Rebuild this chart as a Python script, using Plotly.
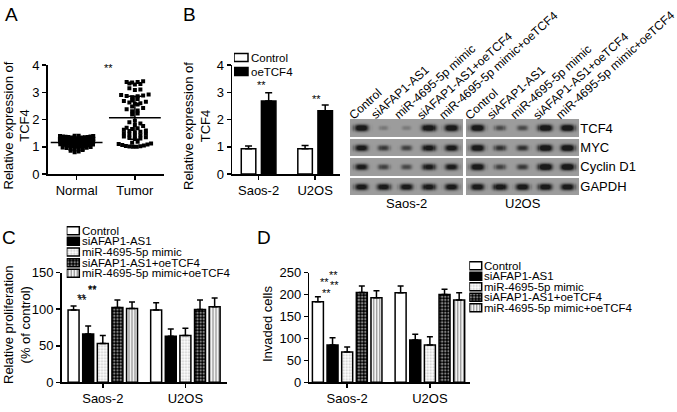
import math
import numpy as np
import plotly.graph_objects as go

W, H = 677, 412
FONT = "Liberation Sans, Arial, sans-serif"

# ---------------- data ----------------
# Panel A: relative TCF4 expression (dot plot)
a_groups = ["Normal", "Tumor"]
normal_tcf4 = [1.40, 1.40, 1.39, 1.39, 1.38, 1.38, 1.37, 1.36, 1.36, 1.35, 1.34, 1.34, 1.33, 1.32, 1.31,
               1.29, 1.28, 1.28, 1.27, 1.26, 1.25, 1.25, 1.24, 1.23, 1.22, 1.22, 1.21, 1.20, 1.20,
               1.19, 1.18, 1.17, 1.16, 1.15, 1.15, 1.14, 1.13, 1.12, 1.12, 1.11, 1.10, 1.10,
               1.09, 1.08, 1.07, 1.06, 1.05, 1.04, 1.04, 1.03, 1.02, 1.01, 1.00,
               0.99, 0.97, 0.96, 0.95, 0.93, 0.92, 0.91, 0.90,
               0.88, 0.85, 0.83, 0.80]
tumor_tcf4 = [3.40, 3.38, 3.38, 3.36, 3.32, 3.30, 3.28,
              3.15, 3.10, 3.08,
              2.92, 2.90, 2.88, 2.86, 2.85, 2.82,
              2.75, 2.70, 2.68, 2.65, 2.62, 2.60, 2.58, 2.55,
              2.48, 2.42, 2.38, 2.33, 2.30,
              2.22, 2.18,
              1.95, 1.90, 1.85, 1.80, 1.76,
              1.70, 1.68, 1.65, 1.62, 1.60, 1.58, 1.55, 1.53, 1.50, 1.48,
              1.45, 1.42, 1.40, 1.38, 1.35, 1.33, 1.30, 1.28,
              1.18, 1.15, 1.12, 1.10, 1.08, 1.06, 1.05, 1.03, 1.02, 1.01, 1.00, 1.00]

# Panel B
b_cells = ["Saos-2", "U2OS"]
b_series = ["Control", "oeTCF4"]
b_control = [0.93, 0.93]
b_control_sd = [0.10, 0.12]
b_oetcf4 = [2.68, 2.32]
b_oetcf4_sd = [0.30, 0.21]

# Western blot
lanes = ["Control", "siAFAP1-AS1", "miR-4695-5p mimic", "siAFAP1-AS1+oeTCF4", "miR-4695-5p mimic+oeTCF4"]
blot_cells = ["Saos-2", "U2OS"]
blot_proteins = ["TCF4", "MYC", "Cyclin D1", "GAPDH"]
tcf4_saos = [1.00, 0.22, 0.20, 1.00, 1.00]
tcf4_u2os = [1.05, 0.50, 0.50, 1.05, 1.05]
myc_saos = [0.90, 0.60, 0.55, 0.90, 0.90]
myc_u2os = [1.00, 0.65, 0.65, 1.05, 1.05]
ccnd1_saos = [0.85, 0.55, 0.50, 0.85, 0.85]
ccnd1_u2os = [1.00, 0.55, 0.60, 1.10, 1.10]
gapdh_saos = [0.90, 0.90, 0.90, 0.90, 0.90]
gapdh_u2os = [0.95, 0.95, 0.95, 0.95, 0.95]

# Panels C & D
cd_cells = ["Saos-2", "U2OS"]
treatments = ["Control", "siAFAP1-AS1", "miR-4695-5p mimic", "siAFAP1-AS1+oeTCF4", "miR-4695-5p mimic+oeTCF4"]
prolif_control = [99, 99]
prolif_control_sd = [5.5, 10]
prolif_si = [66, 63]
prolif_si_sd = [11, 10]
prolif_mimic = [53, 64]
prolif_mimic_sd = [11, 10]
prolif_si_oe = [102.5, 99.5]
prolif_si_oe_sd = [10, 13]
prolif_mimic_oe = [101, 103.5]
prolif_mimic_oe_sd = [9, 12]

inv_control = [184, 204]
inv_control_sd = [11, 15.5]
inv_si = [85, 96.5]
inv_si_sd = [16.5, 13]
inv_mimic = [69, 85]
inv_mimic_sd = [11.5, 19]
inv_si_oe = [205, 200.5]
inv_si_oe_sd = [14.5, 12]
inv_mimic_oe = [193, 188]
inv_mimic_oe_sd = [16, 16]

# ---------------- helpers ----------------
def xd(a, b):
    return [a / W, b / W]


def yd(top, bottom):
    return [1 - bottom / H, 1 - top / H]


STYLES = {
    "Control": dict(color="white", line=dict(color="black", width=1.5)),
    "oeTCF4": dict(color="black", line=dict(color="black", width=1.5)),
    "siAFAP1-AS1": dict(color="black", line=dict(color="black", width=1.5)),
    "miR-4695-5p mimic": dict(color="white", line=dict(color="black", width=1.5),
                              pattern=dict(shape=".", fgcolor="#8a8a8a", bgcolor="white", size=3, solidity=0.35)),
    "siAFAP1-AS1+oeTCF4": dict(color="black", line=dict(color="black", width=1.5),
                               pattern=dict(shape=".", fgcolor="white", bgcolor="black", size=3.2, solidity=0.45)),
    "miR-4695-5p mimic+oeTCF4": dict(color="white", line=dict(color="black", width=1.5),
                                     pattern=dict(shape="|", fgcolor="black", bgcolor="white", size=3, solidity=0.4)),
}


def axis_common(**kw):
    d = dict(showline=True, linecolor="black", linewidth=1.5, ticks="outside", ticklen=4,
             tickwidth=1.5, tickcolor="black", showgrid=False, zeroline=False, automargin=False,
             tickfont=dict(family=FONT, size=13, color="black"), fixedrange=True)
    d.update(kw)
    return d


def swarm(vals, bin_w, dx_max, width_max):
    """Prism-like scatter-dot arrangement: points binned by value, spread in rows."""
    v = np.asarray(vals, dtype=float)
    bins = np.floor((v - v.min()) / bin_w + 1e-9).astype(int)
    order = np.argsort(v, kind="stable")
    offs = np.zeros(len(v))
    for b in np.unique(bins):
        idx = [i for i in order if bins[i] == b]
        n = len(idx)
        dx = min(dx_max, width_max / max(n, 1))
        for k, i in enumerate(idx):
            j = (k + 1) // 2
            s = 1 if k % 2 == 1 else -1
            offs[i] = s * j * dx
        if n % 2 == 0:
            for i in idx:
                offs[i] -= dx / 2
    return offs


fig = go.Figure()
annotations = []

# ---------------- Panel A ----------------
A_X = (47.5, 164)
A_Y = (65, 174)
a_unit = (A_X[1] - A_X[0]) / 2.0
for gi, (vals, bw_, dxpx) in enumerate([(normal_tcf4, 0.1, 4.0), (tumor_tcf4, 0.13, 5.5)]):
    offs = swarm(vals, bw_, dxpx / a_unit, 36.0 / a_unit)
    fig.add_trace(go.Scatter(x=gi + offs, y=vals, mode="markers", xaxis="x", yaxis="y",
                             marker=dict(symbol="square", size=4, color="black", line=dict(width=0)),
                             showlegend=False, hoverinfo="skip"))
    m = float(np.mean(vals))
    sd = float(np.std(vals, ddof=1))
    fig.add_trace(go.Scatter(x=[gi], y=[m], mode="markers", xaxis="x", yaxis="y",
                             marker=dict(symbol="line-ew", size=37, line=dict(color="black", width=1.5)),
                             error_y=dict(type="data", array=[sd], visible=True, width=7, thickness=1.5,
                                          color="black"),
                             showlegend=False, hoverinfo="skip"))

fig.update_layout(
    xaxis=axis_common(domain=xd(*A_X), range=[-0.5, 1.5], tickvals=[0, 1], ticktext=a_groups, anchor="y"),
    yaxis=axis_common(domain=yd(*A_Y), range=[0, 4], tickvals=[0, 1, 2, 3, 4], anchor="x"),
)

# ---------------- Panel B ----------------
B_X = (232, 340)
fig.add_trace(go.Bar(x=[0, 1], y=b_control, offset=-0.306, width=0.257, xaxis="x2", yaxis="y2",
                     marker=STYLES["Control"], showlegend=False, hoverinfo="skip",
                     error_y=dict(type="data", array=b_control_sd, arrayminus=[0, 0], symmetric=False,
                                  width=3.5, thickness=1.5, color="black")))
fig.add_trace(go.Bar(x=[0, 1], y=b_oetcf4, offset=0.05, width=0.257, xaxis="x2", yaxis="y2",
                     marker=STYLES["oeTCF4"], showlegend=False, hoverinfo="skip",
                     error_y=dict(type="data", array=b_oetcf4_sd, arrayminus=[0, 0], symmetric=False,
                                  width=3.5, thickness=1.5, color="black")))
fig.update_layout(
    xaxis2=axis_common(domain=xd(*B_X), range=[-0.47, 1.44], tickvals=[0, 1], ticktext=b_cells, anchor="y2"),
    yaxis2=axis_common(domain=yd(*A_Y), range=[0, 4], tickvals=[0, 1, 2, 3, 4], anchor="x2"),
)

# ---------------- Western blot ----------------
BLOT_X = (350, 579.3)
BLOT_Y = (118.4, 195.9)
PANEL_W = 5.0
PANEL_GAP = 0.15
panel_left = [0.0, PANEL_W + PANEL_GAP]
x_total = 2 * PANEL_W + PANEL_GAP
blot_unit = (BLOT_X[1] - BLOT_X[0]) / x_total
step = 0.05
gx = np.arange(step / 2, x_total, step)
gy = np.arange(step / 2, 4.0, step)
BG = 0.63
rows_saos = [tcf4_saos, myc_saos, ccnd1_saos, gapdh_saos]
rows_u2os = [tcf4_u2os, myc_u2os, ccnd1_u2os, gapdh_u2os]
Z = np.full((len(gy), len(gx)), np.nan)
XX, YY = np.meshgrid(gx, gy)
for r in range(4):
    in_row = (YY >= r + 0.05) & (YY <= r + 0.95)
    for p, data in enumerate([rows_saos, rows_u2os]):
        pl = panel_left[p]
        in_panel = (XX >= pl) & (XX <= pl + PANEL_W)
        mask = in_row & in_panel
        dark = np.zeros_like(XX)
        for li, inten in enumerate(data[r]):
            cx = pl + li + 0.5
            cy = r + 0.5
            f = 0.55 + 0.45 * min(inten, 1.0)
            g = 0.6 + 0.4 * min(inten, 1.0)
            dark += inten * np.exp(-(np.abs(XX - cx) / (0.32 * f)) ** 3) * \
                np.exp(-(np.abs(YY - cy) / (0.17 * g)) ** 2.5)
        vals = np.clip(BG - 0.8 * dark, 0.02, 1)
        Z[mask] = vals[mask]

fig.add_trace(go.Heatmap(x=gx, y=gy, z=Z, xaxis="x3", yaxis="y3", zmin=0, zmax=1,
                         colorscale=[[0, "rgb(22,22,22)"], [1, "rgb(235,235,235)"]],
                         showscale=False, hoverinfo="skip"))
fig.update_layout(
    xaxis3=dict(domain=xd(*BLOT_X), range=[0, x_total], anchor="y3", visible=False, fixedrange=True),
    yaxis3=dict(domain=yd(*BLOT_Y), range=[4, 0], side="right", anchor="x3",
                tickvals=[0.5, 1.5, 2.5, 3.5], ticktext=blot_proteins, ticks="",
                showline=False, showgrid=False, zeroline=False, automargin=False, fixedrange=True,
                tickfont=dict(family=FONT, size=13, color="black")),
)
# lane labels, rotated
LANE_ANGLE = 42
LANE_FS = 12
box_h = LANE_FS * 1.15 + 4
shift_px = box_h * math.sin(math.radians(LANE_ANGLE)) + 6
for p in range(2):
    for i, name in enumerate(lanes):
        cx_px = BLOT_X[0] + (panel_left[p] + i + 0.5) * blot_unit
        annotations.append(dict(x=(cx_px - shift_px) / W, y=1 - (BLOT_Y[0] + 6.5) / H,
                                xref="paper", yref="paper", text=name, showarrow=False,
                                xanchor="left", yanchor="bottom", textangle=-LANE_ANGLE,
                                font=dict(family=FONT, size=LANE_FS, color="black")))
for p, name in enumerate(blot_cells):
    annotations.append(dict(x=panel_left[p] + PANEL_W / 2, y=1 - 203 / H, xref="x3", yref="paper",
                            text=name, showarrow=False, xanchor="center", yanchor="middle",
                            font=dict(family=FONT, size=13, color="black")))

# ---------------- Panels C & D ----------------
C_X = (61.5, 226.7)
CD_Y = (272.7, 382.3)
D_X = (309.3, 470)
spacing = 0.177
bw = 0.133
c_series = [(prolif_control, prolif_control_sd), (prolif_si, prolif_si_sd), (prolif_mimic, prolif_mimic_sd),
            (prolif_si_oe, prolif_si_oe_sd), (prolif_mimic_oe, prolif_mimic_oe_sd)]
d_series = [(inv_control, inv_control_sd), (inv_si, inv_si_sd), (inv_mimic, inv_mimic_sd),
            (inv_si_oe, inv_si_oe_sd), (inv_mimic_oe, inv_mimic_oe_sd)]
for xa, ya, series in [("x4", "y4", c_series), ("x5", "y5", d_series)]:
    for k, (vals, sds) in enumerate(series):
        fig.add_trace(go.Bar(x=[0, 1], y=vals, offset=(k - 2) * spacing - bw / 2, width=bw,
                             xaxis=xa, yaxis=ya, marker=STYLES[treatments[k]],
                             showlegend=False, hoverinfo="skip",
                             error_y=dict(type="data", array=sds, arrayminus=[0, 0], symmetric=False,
                                          width=3, thickness=1.5, color="black")))
fig.update_layout(
    xaxis4=axis_common(domain=xd(*C_X), range=[-0.5, 1.5], tickvals=[0, 1], ticktext=cd_cells, anchor="y4"),
    yaxis4=axis_common(domain=yd(*CD_Y), range=[0, 150], tickvals=[0, 50, 100, 150], anchor="x4"),
    xaxis5=axis_common(domain=xd(*D_X), range=[-0.458, 1.485], tickvals=[0, 1], ticktext=cd_cells, anchor="y5"),
    yaxis5=axis_common(domain=yd(*CD_Y), range=[0, 250], tickvals=[0, 50, 100, 150, 200, 250], anchor="x5"),
)

# ---------------- manual legends ----------------
def add_legend(n, names, left_px, top_center, sp, box_w, box_h_, text_gap):
    xa, ya = f"x{n}", f"y{n}"
    for i, nm in enumerate(names):
        fig.add_trace(go.Bar(y=[i], x=[box_w], base=[0], orientation="h", width=box_h_ / sp,
                             xaxis=xa, yaxis=ya, marker=STYLES[nm], showlegend=False, hoverinfo="skip"))
        annotations.append(dict(x=box_w + text_gap, y=i, xref=xa, yref=ya, text=nm, showarrow=False,
                                xanchor="left", yanchor="middle",
                                font=dict(family=FONT, size=11.5, color="black")))
    top = top_center - sp / 2
    bottom = top_center + sp * (len(names) - 0.5)
    fig.layout[f"xaxis{n}"] = dict(domain=xd(left_px, left_px + 200), range=[0, 200], visible=False,
                                   anchor=ya, fixedrange=True)
    fig.layout[f"yaxis{n}"] = dict(domain=yd(top, bottom), range=[len(names) - 0.5, -0.5], visible=False,
                                   anchor=xa, fixedrange=True)


add_legend(6, b_series, 234, 57.6, 14.0, 14.0, 8.0, 0.5)
add_legend(7, treatments, 66.7, 230.7, 10.65, 12.6, 8.0, 0.5)
add_legend(8, treatments, 469.3, 265.7, 10.5, 12.4, 8.0, 0.5)

# ---------------- text annotations ----------------
def ann(x, y, text, size, angle=0, xref="paper", yref="paper"):
    annotations.append(dict(x=x, y=y, xref=xref, yref=yref, text=text, showarrow=False,
                            xanchor="center", yanchor="middle", textangle=angle,
                            font=dict(family=FONT, size=size, color="black")))


for letter, lx, ly in [("A", 11.7, 15), ("B", 190, 15), ("C", 9, 237), ("D", 264, 237)]:
    ann(lx / W, 1 - ly / H, letter, 19)

ann(17 / W, 1 - 125.5 / H, "Relative expression of<br>TCF4", 13, -90)
ann(197.5 / W, 1 - 125.5 / H, "Relative expression of<br>TCF4", 13, -90)
ann(17 / W, 1 - 325 / H, "Relative proliferation<br>(% of control)", 13, -90)
ann(267 / W, 1 - 324 / H, "Invaded cells", 13, -90)

# significance marks
for x, y, xr, yr in [(0.55, 3.9, "x", "y"),
                     (0.06, 3.25, "x2", "y2"), (1.03, 2.75, "x2", "y2"),
                     (-0.25, 112, "x4", "y4"), (-0.127, 126, "x4", "y4"),
                     (-0.255, 116, "x4", "y4"), (-0.124, 128, "x4", "y4"),
                     (-0.256, 204, "x5", "y5"), (-0.151, 223, "x5", "y5"),
                     (-0.28, 228, "x5", "y5"), (-0.168, 245, "x5", "y5")]:
    ann(x, y, "**", 11, 0, xr, yr)

fig.update_layout(
    width=W, height=H, margin=dict(l=0, r=0, t=0, b=0),
    paper_bgcolor="white", plot_bgcolor="white",
    barmode="overlay", showlegend=False,
    annotations=annotations,
    font=dict(family=FONT, color="black"),
)

fig.write_html("out.html", config={"displayModeBar": False, "staticPlot": True},
               post_script="document.body.style.margin='0';document.body.style.overflow='hidden';")
